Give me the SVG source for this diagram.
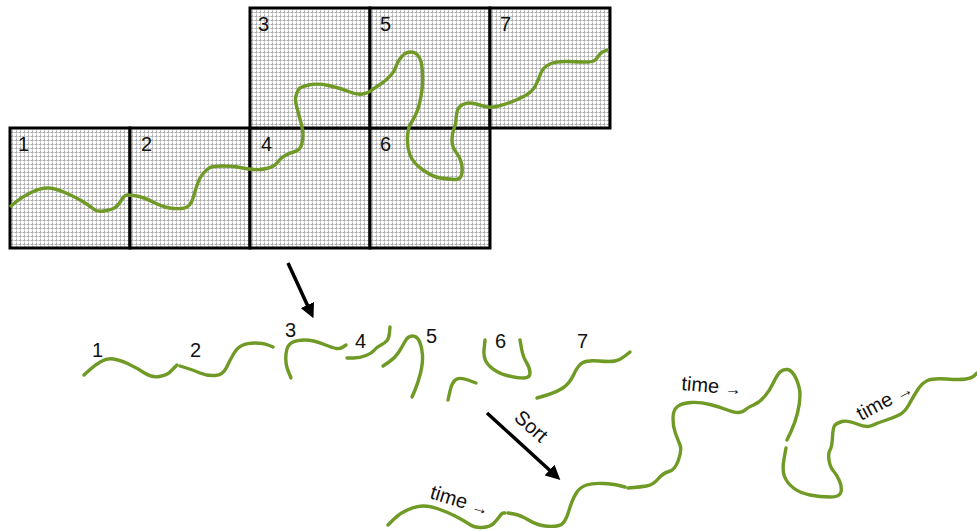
<svg xmlns="http://www.w3.org/2000/svg" width="977" height="531" viewBox="0 0 977 531">
  <style>
    .cell { fill: url(#grid); stroke: #000; stroke-width: 3; }
    .track { fill: none; stroke: #6f9a25; stroke-width: 3.4; stroke-linecap: round; stroke-linejoin: round; }
    .num { font-family: "Liberation Sans", Arial, sans-serif; font-size: 20px; fill: #111; }
    .lbl { font-family: "Liberation Sans", Arial, sans-serif; font-size: 20px; fill: #111; }
    .dir { font-size: 17px; }
    .arrow { stroke: #000; stroke-width: 3.5; fill: none; marker-end: url(#head); }
  </style>
  <defs>
    <pattern id="grid" width="4" height="4" patternUnits="userSpaceOnUse">
      <rect width="4" height="4" fill="#fff"/>
      <path d="M0 0.5H4M0.5 0V4" stroke="#aaaaaa" stroke-width="1" stroke-dasharray="1.5 1"/>
    </pattern>
    <marker id="head" viewBox="0 0 10 10" refX="6" refY="5" markerWidth="4.2" markerHeight="4.2" orient="auto" markerUnits="strokeWidth">
      <path d="M0 0L10 5L0 10z" fill="#000"/>
    </marker>
  </defs>

  <!-- tiled map -->
  <g id="tiles">
    <g id="tile-1"><rect class="cell" x="10" y="128" width="120" height="120"/><text class="num" x="18" y="151">1</text></g>
    <g id="tile-2"><rect class="cell" x="130" y="128" width="120" height="120"/><text class="num" x="141" y="151">2</text></g>
    <g id="tile-4"><rect class="cell" x="250" y="128" width="120" height="120"/><text class="num" x="261" y="151">4</text></g>
    <g id="tile-6"><rect class="cell" x="370" y="128" width="120" height="120"/><text class="num" x="380" y="151">6</text></g>
    <g id="tile-3"><rect class="cell" x="250" y="8" width="120" height="120"/><text class="num" x="258" y="31">3</text></g>
    <g id="tile-5"><rect class="cell" x="370" y="8" width="120" height="120"/><text class="num" x="380" y="31">5</text></g>
    <g id="tile-7"><rect class="cell" x="490" y="8" width="120" height="120"/><text class="num" x="500" y="31">7</text></g>
  </g>

  <!-- full trajectory over the tiles -->
  <g id="trajectory">
    <path class="track" d="M11 206L16.5 201.5Q22 197 31 192.5Q40 188 47.5 188Q55 188 66 193Q77 198 83.5 202Q90 206 93.5 209Q97 212 103.5 211Q110 210 113.5 208.5Q117 207 119.5 203Q122 199 123.5 197Q125 195 127.5 195Q130 195 136.5 196Q143 197 153 202Q163 207 169.5 208Q176 209 181.5 208.5Q187 208 189.5 205Q192 202 194 195Q196 188 198 182.5Q200 177 203.5 173Q207 169 210 167.5Q213 166 223 166Q233 166 240 167.5Q247 169 253.5 169.5Q260 170 266.5 168.5Q273 167 275.5 164.5Q278 162 280 159.5Q282 157 286 155Q290 153 295 151.5Q300 150 301.5 145Q303 140 303 135Q303 130 300.5 121Q298 112 296.5 106Q295 100 296 96Q297 92 298.5 89.5Q300 87 308.5 85Q317 83 328.5 85.5Q340 88 348.5 91.5Q357 95 362.5 94Q368 93 370.5 91Q373 89 380 84.5Q387 80 391 75Q395 70 396 66.5Q397 63 399.5 59.5Q402 56 404.5 54Q407 52 411 52Q415 52 417.5 55Q420 58 421 61.5Q422 65 422.5 74Q423 83 422 90Q421 97 419.5 103.5Q418 110 415.5 115Q413 120 410.5 124Q408 128 407.5 137.5Q407 147 410 155Q413 163 423 170Q433 177 440.5 178Q448 179 454 179.5Q460 180 461.5 175Q463 170 461.5 163.5Q460 157 456 152Q452 147 452 140Q452 133 454 128.5Q456 124 456 120.5Q456 117 457 112Q458 107 463 104.5Q468 102 474 103.5Q480 105 485 106.5Q490 108 496.5 106.5Q503 105 510 102.5Q517 100 524.5 96Q532 92 535 86.5Q538 81 540.5 74Q543 67 550 64Q557 61 568.5 61.5Q580 62 587.5 62Q595 62 597.5 57.5Q600 53 603.5 51.5L607 50"/>
  </g>

  <!-- separated segments -->
  <g id="segments">
    <path class="track" d="M84 375L89.5 370Q95 365 101 361.5Q107 358 113.5 359Q120 360 128.5 364Q137 368 144.5 373Q152 378 159.5 376.5Q167 375 169.5 372.5Q172 370 174.5 367.5L177 365"/>
    <path class="track" d="M180 366L186.5 368Q193 370 200 373Q207 376 215 375.5Q223 375 226.5 367.5Q230 360 233.5 354Q237 348 242 345.5Q247 343 255 343Q263 343 268 345L273 347"/>
    <path class="track" d="M291 378L288 370.5Q285 363 286 354Q287 345 292 342.5Q297 340 305 340Q313 340 323 344Q333 348 336.5 348.5Q340 349 343 347L346 345"/>
    <path class="track" d="M347 358L353.5 358Q360 358 366 355.5Q372 353 374.5 350Q377 347 381 345Q385 343 387 340.5Q389 338 389.5 332.5L390 327"/>
    <path class="track" d="M383 366L389 362Q395 358 398.5 352.5Q402 347 405 341.5Q408 336 412.5 336Q417 336 419.5 341.5Q422 347 422.5 355Q423 363 420.5 373Q418 383 415 390L412 397"/>
    <path class="track" d="M448 400L450 391Q452 382 456 379.5Q460 377 468 380L476 383"/>
    <path class="track" d="M485 340L484 350Q483 360 490 366.5Q497 373 507 375.5Q517 378 523.5 378Q530 378 530 373Q530 368 526.5 362.5Q523 357 521.5 348.5L520 340"/>
    <path class="track" d="M537 398L547 395Q557 392 563.5 387.5Q570 383 574 374Q578 365 583 362.5Q588 360 599 361Q610 362 615 361Q620 360 625 356L630 352"/>
    <text class="num" x="92" y="357">1</text>
    <text class="num" x="190" y="357">2</text>
    <text class="num" x="285" y="337">3</text>
    <text class="num" x="355" y="348">4</text>
    <text class="num" x="426" y="343">5</text>
    <text class="num" x="495" y="348">6</text>
    <text class="num" x="577" y="348">7</text>
  </g>

  <!-- sorted trajectory -->
  <g id="sorted">
    <path class="track" d="M388 525L394 519Q400 513 408.5 509.5Q417 506 423.5 506Q430 506 438.5 509Q447 512 455 516Q463 520 469 524Q475 528 482.5 527.5Q490 527 493.5 523.5Q497 520 499.5 516.5Q502 513 503.5 513L505 513"/>
    <path class="track" d="M508 513L514 514Q520 515 528.5 520Q537 525 545 526Q553 527 559 525.5Q565 524 568.5 512Q572 500 576 493.5Q580 487 586.5 485Q593 483 603 483.5Q613 484 619 485.5L625 487"/>
    <path class="track" d="M628 488L634 487.5Q640 487 646.5 486Q653 485 658 479Q663 473 669 471.5Q675 470 678.5 460Q682 450 680 445Q678 440 675.5 433.5Q673 427 673 418.5Q673 410 677.5 406.5Q682 403 691 402.5Q700 402 710 404.5Q720 407 727.5 410Q735 413 739 412.5Q743 412 745 410Q747 408 753.5 405Q760 402 765 396Q770 390 773.5 382.5Q777 375 780 372Q783 369 787.5 369.5Q792 370 796 378.5Q800 387 800 395Q800 403 797.5 413Q795 423 791 431.5L787 440"/>
    <path class="track" d="M786 448L784 459Q782 470 784.5 476.5Q787 483 793.5 488Q800 493 810 495Q820 497 830 497Q840 497 841 492Q842 487 839.5 481Q837 475 833.5 471Q830 467 829 460Q828 453 830 450Q832 447 832.5 437Q833 427 835 425Q837 423 842 421.5Q847 420 857 424Q867 428 872 425.5Q877 423 885 420.5Q893 418 899 415Q905 412 909 404.5Q913 397 917.5 390Q922 383 927.5 380.5Q933 378 946.5 379Q960 380 966 379Q972 378 974.5 375.5L977 373"/>
    <text class="lbl" transform="translate(429 498) rotate(17)">time <tspan class="dir">→</tspan></text>
    <text class="lbl" transform="translate(681 390) rotate(5)">time <tspan class="dir">→</tspan></text>
    <text class="lbl" transform="translate(861 421) rotate(-28)">time <tspan class="dir">→</tspan></text>
  </g>

  <!-- connectors -->
  <g id="connectors">
    <path class="arrow" d="M288 263L311 313"/>
    <path class="arrow" d="M487 413L556 476"/>
    <text class="num" font-size="22" transform="translate(513 419) rotate(42)">Sort</text>
  </g>
</svg>
